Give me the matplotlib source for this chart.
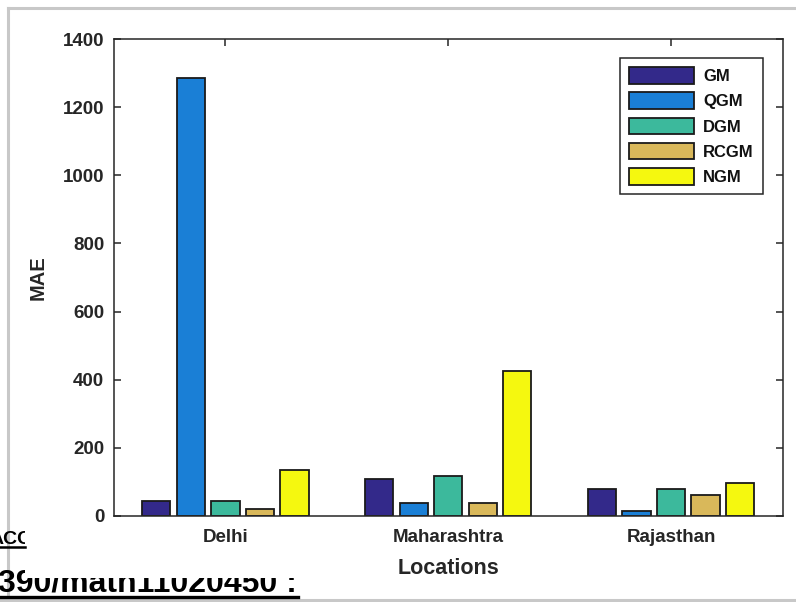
import numpy as np
import matplotlib
matplotlib.use('Agg')
import matplotlib.pyplot as plt
from matplotlib.lines import Line2D
from matplotlib.transforms import Bbox

plt.rcParams['font.family'] = ['Liberation Sans', 'DejaVu Sans']
plt.rcParams['font.weight'] = 'bold'
plt.rcParams['axes.labelweight'] = 'bold'

# data
locations = ['Delhi', 'Maharashtra', 'Rajasthan']
models = ['GM', 'QGM', 'DGM', 'RCGM', 'NGM']
gm = [45, 108, 79]
qgm = [1286, 37, 16]
dgm = [44, 118, 79]
rcgm = [21, 37, 63]
ngm = [135, 426, 97]
y_ticks = [0, 200, 400, 600, 800, 1000, 1200, 1400]

colors = ['#33298a', '#1a7fd6', '#3cb99c', '#d9b85a', '#f5f80f']
series = [gm, qgm, dgm, rcgm, ngm]

W, H = 796, 602
fig = plt.figure(figsize=(W / 100, H / 100), dpi=100)
ax = fig.add_axes([114 / W, 1 - 516 / H, (782.5 - 114) / W, (516 - 39) / H])

x = np.arange(1, len(locations) + 1)
step = 0.155
for i, (vals, c, name) in enumerate(zip(series, colors, models)):
    ax.bar(x + (i - 2) * step, vals, width=0.127, color=c, edgecolor='#1a1a1a',
           linewidth=1.3, label=name, zorder=2)

ax.set_xlim(0.5, 3.5)
ax.set_ylim(0, 1400)
ax.set_xticks(x)
ax.set_xticklabels(locations)
ax.set_yticks(y_ticks)

dark = '#262626'
for spine in ax.spines.values():
    spine.set_color(dark)
    spine.set_linewidth(1.1)
ax.tick_params(axis='both', direction='in', length=5, width=1.1, color=dark,
               labelcolor=dark, labelsize=13.5)
ax.tick_params(axis='y', right=True, pad=7)
ax.tick_params(axis='x', top=True, pad=9)

ax.set_xlabel('Locations', fontsize=15.5, color=dark, labelpad=9)
ax.set_ylabel('MAE', fontsize=14.5, color=dark, labelpad=11)

leg = ax.legend(loc='upper right', bbox_to_anchor=((763 - 114) / 668.5, (516 - 58) / 477),
                fontsize=12, frameon=True, fancybox=False, framealpha=1,
                edgecolor=dark, handlelength=3.9, handleheight=1.15,
                labelspacing=0.5, handletextpad=0.55, borderpad=0.55,
                borderaxespad=0)
leg.get_frame().set_linewidth(1.1)
for t in leg.get_texts():
    t.set_color('#111111')

# grey page frame around the screenshot
frame_kw = dict(color='#c8c8c8', linewidth=2.2, transform=fig.transFigure)
fig.add_artist(Line2D([8 / W, 1], [1 - 8 / H, 1 - 8 / H], **frame_kw))
fig.add_artist(Line2D([8 / W, 8 / W], [1 - 8 / H, 1 - 600 / H], **frame_kw))
fig.add_artist(Line2D([0, 1], [1 - 600 / H, 1 - 600 / H], **frame_kw))

# clipped page text bleeding in at the bottom left
t1 = fig.text(-10 / W, 1 - 544 / H, 'ACC', fontsize=14, color='black', ha='left', va='baseline')
t1.set_clip_box(Bbox.from_extents(0, 0, 25, H))
t1.set_clip_on(True)
fig.add_artist(Line2D([0, 25 / W], [1 - 547 / H, 1 - 547 / H], color='black',
                      linewidth=1.8, transform=fig.transFigure))

doi = '390/math11020450 :'
for clip in [(0, 0, 25, H - 566), (25, 0, W, H - 578)]:
    t2 = fig.text(-2 / W, 1 - 592 / H, doi, fontsize=23, color='black',
                  ha='left', va='baseline')
    t2.set_clip_box(Bbox.from_extents(*clip))
    t2.set_clip_on(True)
fig.add_artist(Line2D([0, 298 / W], [1 - 597 / H, 1 - 597 / H], color='black',
                      linewidth=2.4, transform=fig.transFigure))

fig.savefig('out.png', dpi=100)
